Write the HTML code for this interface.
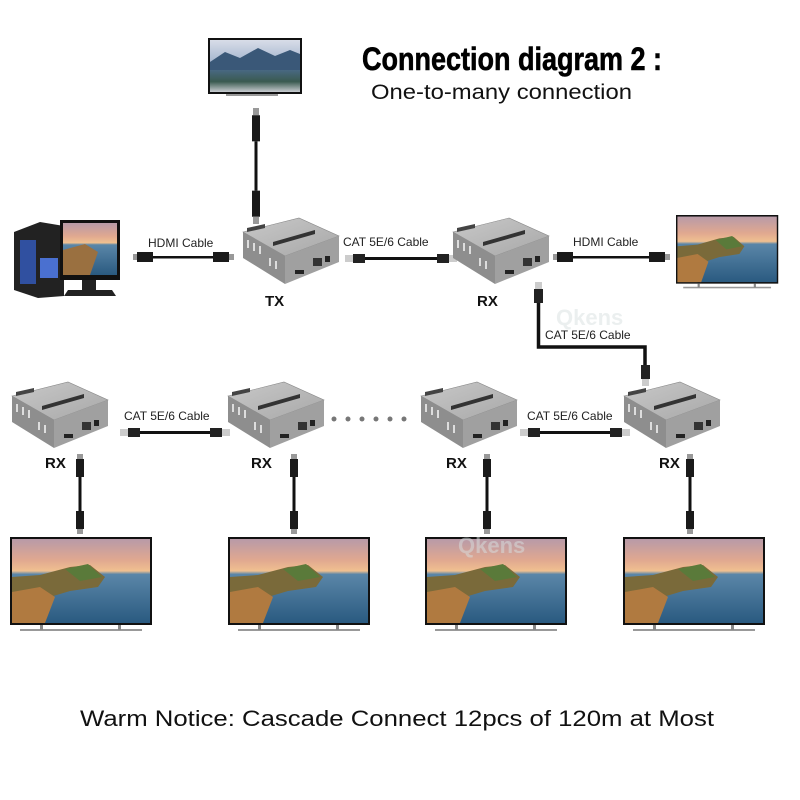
<!DOCTYPE html>
<html><head><meta charset="utf-8"><style>
html,body{margin:0;padding:0;background:#fff;}
svg{display:block}
</style></head><body>
<svg width="800" height="800" viewBox="0 0 800 800" xmlns="http://www.w3.org/2000/svg">
<defs>
<linearGradient id="sky" x1="0" y1="0" x2="0" y2="1">
<stop offset="0" stop-color="#b89aa8"/><stop offset="0.25" stop-color="#e0a890"/><stop offset="0.38" stop-color="#f0c090"/><stop offset="0.42" stop-color="#5a86a8"/><stop offset="1" stop-color="#2a5a80"/>
</linearGradient>
<linearGradient id="mtn" x1="0" y1="0" x2="0" y2="1">
<stop offset="0" stop-color="#d8dde8"/><stop offset="0.4" stop-color="#a8b8d0"/><stop offset="0.55" stop-color="#4a6a88"/><stop offset="0.8" stop-color="#3a5a50"/><stop offset="1" stop-color="#c8ccd0"/>
</linearGradient>
<linearGradient id="top" x1="0" y1="0" x2="1" y2="1">
<stop offset="0" stop-color="#c8c8c8"/><stop offset="1" stop-color="#a8a8a8"/>
</linearGradient>
<g id="dev">
<polygon points="0,14 56,0 96,18 42,38" fill="url(#top)" stroke="#888" stroke-width="0.6"/>
<polygon points="0,14 42,38 42,66 0,40" fill="#8e8e8e"/>
<polygon points="42,38 96,18 96,44 42,66" fill="#a0a0a0"/>
<polygon points="4,10 22,6 22,10 4,14" fill="#444"/>
<polygon points="30,24 72,12 72,16 30,28" fill="#333"/>
<rect x="70" y="40" width="9" height="8" fill="#333"/>
<rect x="82" y="38" width="5" height="6" fill="#222"/>
<rect x="52" y="52" width="9" height="4" fill="#222"/>
<g fill="#ddd"><rect x="4" y="22" width="2" height="8"/><rect x="10" y="25" width="2" height="8"/><rect x="16" y="28" width="2" height="8"/><rect x="26" y="40" width="2" height="8"/><rect x="32" y="43" width="2" height="8"/></g>
</g>
<g id="tv">
<rect x="0" y="0" width="142" height="88" fill="#111"/>
<rect x="2" y="2" width="138" height="84" fill="url(#sky)"/>
<path d="M2,40 L30,38 L60,30 L80,28 L95,40 L88,50 L60,54 L40,60 L30,86 L2,86 Z" fill="#7a6a3a"/>
<path d="M2,55 L30,50 L45,60 L35,86 L2,86 Z" fill="#b07a40"/>
<path d="M55,32 L78,27 L92,40 L70,44 Z" fill="#5a7a3a"/>
<rect x="10" y="92" width="122" height="2" fill="#999"/>
<rect x="30" y="88" width="3" height="5" fill="#888"/><rect x="108" y="88" width="3" height="5" fill="#888"/>
</g>
<g id="vh">
<rect x="-3" y="0" width="6" height="5" fill="#999"/>
<rect x="-4" y="5" width="8" height="18" fill="#1a1a1a"/>
<rect x="-1.5" y="23" width="3" height="34" fill="#111"/>
<rect x="-4" y="57" width="8" height="18" fill="#1a1a1a"/>
<rect x="-3" y="75" width="6" height="5" fill="#999"/>
</g>
</defs>

<text x="362" y="70" font-family="'Liberation Sans Narrow','Liberation Sans',sans-serif" font-weight="bold" font-size="32" textLength="300" lengthAdjust="spacingAndGlyphs" fill="#000" stroke="#000" stroke-width="0.6">Connection diagram 2 :</text>
<text x="371" y="99" font-family="'Liberation Sans',sans-serif" font-size="21" textLength="261" lengthAdjust="spacingAndGlyphs" fill="#111">One-to-many connection</text>

<!-- top TV -->
<rect x="208" y="38" width="94" height="56" fill="#111"/>
<rect x="210" y="40" width="90" height="52" fill="url(#mtn)"/>
<path d="M210,62 L225,52 L240,58 L258,48 L275,56 L290,50 L300,54 L300,70 L210,70 Z" fill="#3a5878"/>
<rect x="226" y="94" width="52" height="2" fill="#999"/>
<g transform="translate(256,108) scale(1,1.45)"><use href="#vh"/></g>

<!-- PC -->
<polygon points="14,232 40,222 64,226 64,296 38,298 14,290" fill="#222"/>
<rect x="20" y="240" width="16" height="44" fill="#3050a0"/>
<rect x="40" y="258" width="18" height="20" fill="#4a70d0"/>
<rect x="60" y="220" width="60" height="60" fill="#111"/>
<rect x="63" y="223" width="54" height="52" fill="url(#sky)"/>
<path d="M63,250 L85,244 L98,252 L90,275 L63,275 Z" fill="#9a7040"/>
<rect x="82" y="280" width="14" height="10" fill="#222"/>
<polygon points="68,290 112,290 116,296 64,296" fill="#222"/>

<g font-family="'Liberation Sans',sans-serif" font-size="12" fill="#222">
<text x="148" y="247">HDMI Cable</text>
<text x="343" y="246">CAT 5E/6 Cable</text>
<text x="573" y="246">HDMI Cable</text>
<text x="545" y="339">CAT 5E/6 Cable</text>
<text x="124" y="420">CAT 5E/6 Cable</text>
<text x="527" y="420">CAT 5E/6 Cable</text>
</g>
<g>
<rect x="133" y="254" width="4" height="6" fill="#999"/><rect x="137" y="252" width="16" height="10" fill="#1a1a1a"/><rect x="153" y="256" width="60" height="2.5" fill="#111"/><rect x="213" y="252" width="16" height="10" fill="#1a1a1a"/><rect x="229" y="254" width="5" height="6" fill="#999"/>
<rect x="553" y="254" width="4" height="6" fill="#999"/><rect x="557" y="252" width="16" height="10" fill="#1a1a1a"/><rect x="573" y="256" width="76" height="2.5" fill="#111"/><rect x="649" y="252" width="16" height="10" fill="#1a1a1a"/><rect x="665" y="254" width="5" height="6" fill="#999"/>
</g>
<g>
<rect x="345" y="255" width="8" height="7" fill="#ccc"/><rect x="353" y="254" width="12" height="9" fill="#222"/><rect x="365" y="257" width="72" height="3" fill="#111"/><rect x="437" y="254" width="12" height="9" fill="#222"/><rect x="449" y="255" width="8" height="7" fill="#ccc"/>
<rect x="120" y="429" width="8" height="7" fill="#ccc"/><rect x="128" y="428" width="12" height="9" fill="#222"/><rect x="140" y="431" width="70" height="3" fill="#111"/><rect x="210" y="428" width="12" height="9" fill="#222"/><rect x="222" y="429" width="8" height="7" fill="#ccc"/>
<rect x="520" y="429" width="8" height="7" fill="#ccc"/><rect x="528" y="428" width="12" height="9" fill="#222"/><rect x="540" y="431" width="70" height="3" fill="#111"/><rect x="610" y="428" width="12" height="9" fill="#222"/><rect x="622" y="429" width="8" height="7" fill="#ccc"/>
<rect x="535" y="282" width="7" height="7" fill="#ccc"/><rect x="534" y="289" width="9" height="14" fill="#222"/>
<path d="M538.5,303 V347 H645 V365" stroke="#111" stroke-width="3.5" fill="none"/>
<rect x="641" y="365" width="9" height="14" fill="#222"/><rect x="642" y="379" width="7" height="7" fill="#ccc"/>
</g>

<g transform="translate(243,218)"><use href="#dev"/></g>
<g transform="translate(453,218)"><use href="#dev"/></g>
<g transform="translate(12,382)"><use href="#dev"/></g>
<g transform="translate(228,382)"><use href="#dev"/></g>
<g transform="translate(421,382)"><use href="#dev"/></g>
<g transform="translate(624,382)"><use href="#dev"/></g>

<g font-family="'Liberation Sans',sans-serif" font-weight="bold" font-size="15" fill="#111">
<text x="265" y="306">TX</text><text x="477" y="306">RX</text>
<text x="45" y="468">RX</text><text x="251" y="468">RX</text><text x="446" y="468">RX</text><text x="659" y="468">RX</text>
</g>

<g fill="#777"><circle cx="334" cy="419" r="2.5"/><circle cx="348" cy="419" r="2.5"/><circle cx="362" cy="419" r="2.5"/><circle cx="376" cy="419" r="2.5"/><circle cx="390" cy="419" r="2.5"/><circle cx="404" cy="419" r="2.5"/></g>

<g transform="translate(676,215) scale(0.72,0.78)"><use href="#tv"/></g>

<g transform="translate(80,454)"><use href="#vh"/></g>
<g transform="translate(294,454)"><use href="#vh"/></g>
<g transform="translate(487,454)"><use href="#vh"/></g>
<g transform="translate(690,454)"><use href="#vh"/></g>

<g transform="translate(10,537)"><use href="#tv"/></g>
<g transform="translate(228,537)"><use href="#tv"/></g>
<g transform="translate(425,537)"><use href="#tv"/></g>
<g transform="translate(623,537)"><use href="#tv"/></g>

<g font-family="'Liberation Sans',sans-serif" font-weight="bold" font-size="22" fill="#d8e0e0" opacity="0.5">
<text x="458" y="553">Qkens</text><text x="556" y="325">Qkens</text>
</g>

<text x="80" y="726" font-family="'Liberation Sans',sans-serif" font-size="22" textLength="634" lengthAdjust="spacingAndGlyphs" fill="#111">Warm Notice: Cascade Connect 12pcs of 120m at Most</text>
</svg>
</body></html>
